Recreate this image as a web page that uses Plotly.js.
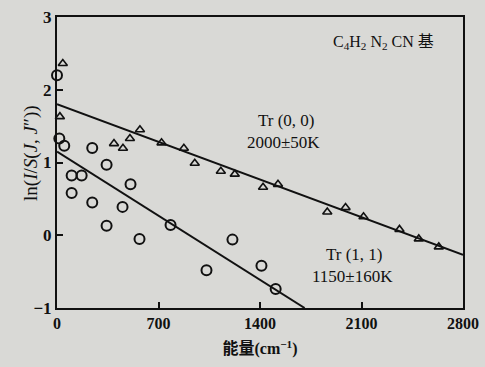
<!DOCTYPE html>
<html><head><meta charset="utf-8">
<script src="https://cdn.plot.ly/plotly-3.0.1.min.js"></script>
<style>html,body{margin:0;padding:0;background:#d9d9d6;}</style>
</head><body>
<div id="chart" style="width:485px;height:367px;"></div>
<script>
// Tr(0,0) points (triangles)
const tri_x = [40, 20, 393, 455, 503, 572, 721, 875, 950, 1130, 1226, 1421, 1524, 1864, 1990, 2114, 2362, 2495, 2633];
const tri_y = [2.36, 1.63, 1.26, 1.195, 1.33, 1.45, 1.27, 1.195, 0.99, 0.88, 0.84, 0.66, 0.70, 0.32, 0.38, 0.255, 0.08, -0.05, -0.16];
// Tr(1,1) points (circles)
const cir_x = [0, 16, 50, 243, 342, 101, 170, 101, 243, 507, 452, 342, 569, 783, 1031, 1210, 1410, 1508];
const cir_y = [2.20, 1.33, 1.23, 1.20, 0.97, 0.82, 0.82, 0.58, 0.45, 0.70, 0.39, 0.13, -0.05, 0.14, -0.48, -0.06, -0.42, -0.74];
// fitted lines (end points)
const fit00_x = [0, 2800];
const fit00_y = [1.80, -0.27];
const fit11_x = [0, 1708];
const fit11_y = [1.15, -1.0];
const xTicks = [0, 700, 1400, 2100, 2800];
const yTicks = [-1, 0, 1, 2, 3];

const serif = "Liberation Serif, DejaVu Serif, serif";
const serifCJK = "Liberation Serif, Noto Sans CJK SC, serif";
const traces = [
  {x: fit00_x, y: fit00_y, mode: 'lines', line: {color: '#111', width: 2}, hoverinfo: 'skip'},
  {x: fit11_x, y: fit11_y, mode: 'lines', line: {color: '#111', width: 2}, hoverinfo: 'skip'},
  {x: tri_x, y: tri_y, mode: 'markers', cliponaxis: false,
   marker: {symbol: 'triangle-up-open', size: 8, color: '#111', line: {width: 1.6, color: '#111'}}},
  {x: cir_x, y: cir_y, mode: 'markers', cliponaxis: false,
   marker: {symbol: 'circle-open', size: 10, color: '#111', line: {width: 2, color: '#111'}}}
];
const layout = {
  width: 485, height: 367,
  margin: {l: 57, r: 22, t: 17, b: 59},
  paper_bgcolor: '#d9d9d6', plot_bgcolor: '#d9d9d6',
  showlegend: false,
  font: {family: serif, color: '#111', size: 15},
  xaxis: {range: [0, 2800], tickvals: xTicks, ticktext: xTicks.map(v => '<b>' + v + '</b>'),
    ticks: 'inside', ticklen: 6, tickwidth: 2, tickcolor: '#111',
    showline: true, linewidth: 2, linecolor: '#111', mirror: true,
    showgrid: false, zeroline: false,
    tickfont: {family: serif, size: 16, color: '#111'},
    title: {text: '<b>能量(cm<sup>−1</sup>)</b>', standoff: 12, font: {family: serifCJK, size: 16, color: '#111'}}},
  yaxis: {range: [-1, 3], tickvals: yTicks, ticktext: yTicks.map(v => '<b>' + (v < 0 ? '−' + Math.abs(v) : String(v)) + '</b>'),
    ticks: 'inside', ticklen: 6, tickwidth: 2, tickcolor: '#111',
    showline: true, linewidth: 2, linecolor: '#111', mirror: true,
    showgrid: false, zeroline: false,
    tickfont: {family: serif, size: 17, color: '#111'},
    title: {text: ''}},
  annotations: [
    {x: -0.096, y: 0.533, xref: 'paper', yref: 'paper', textangle: -90, showarrow: false,
     text: 'ln(<i>I</i>/<i>S</i>(<i>J</i>, <i>J</i>″))', font: {family: serif, size: 19, color: '#111'}},
    {x: 2250, y: 2.65, xref: 'x', yref: 'y', text: 'C<sub>4</sub>H<sub>2</sub> N<sub>2</sub> CN 基', showarrow: false,
     font: {family: serifCJK, size: 16, color: '#111'}},
    {x: 1580, y: 1.58, xref: 'x', yref: 'y', text: 'Tr (0, 0)', showarrow: false, font: {family: serif, size: 17, color: '#111'}},
    {x: 1560, y: 1.28, xref: 'x', yref: 'y', text: '2000±50K', showarrow: false, font: {family: serif, size: 17, color: '#111'}},
    {x: 2050, y: -0.27, xref: 'x', yref: 'y', text: 'Tr (1, 1)', showarrow: false, font: {family: serif, size: 17, color: '#111'}},
    {x: 2040, y: -0.57, xref: 'x', yref: 'y', text: '1150±160K', showarrow: false, font: {family: serif, size: 17, color: '#111'}}
  ]
};
Plotly.newPlot('chart', traces, layout, {displayModeBar: false, staticPlot: true});
</script>
</body></html>
